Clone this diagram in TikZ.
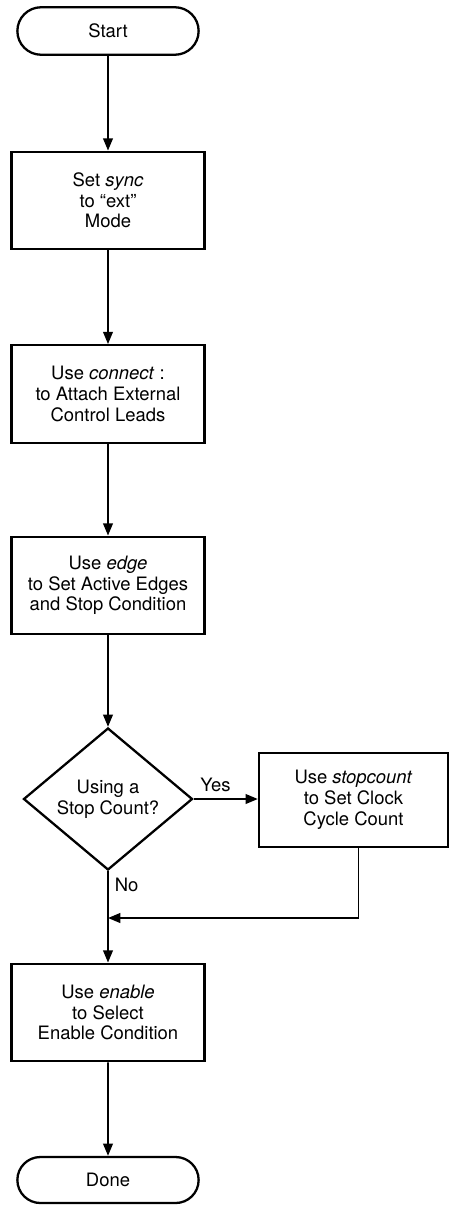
\documentclass[tikz,border=0pt]{standalone}
\usepackage{fontspec}
\setmainfont{TeX Gyre Heros}
\usetikzlibrary{arrows.meta,shapes.geometric,shapes.misc}

\begin{document}
\begin{tikzpicture}[font=\fontsize{10.5}{11.8}\selectfont,
                    stepbox/.style={rectangle,draw,line width=1.3pt,align=center,
                                    minimum width=3.86cm,minimum height=1.95cm},
                    termbox/.style={rounded rectangle,draw,line width=1.3pt,
                                    minimum width=3.86cm,minimum height=0.95cm},
                    askbox/.style={diamond,draw,line width=1.3pt,align=center,inner sep=0pt,
                                   aspect=1.19,minimum width=3.38cm,minimum height=2.84cm}]
\useasboundingbox (0,0) rectangle (9,-24.1);

\node[termbox] (start)  at (2.16,-0.62)  {Start};
\node[stepbox] (sync)   at (2.16,-4.01)  {Set \textit{sync}\\to “ext”\\Mode};
\node[stepbox] (conn)   at (2.16,-7.88)  {Use \textit{connect} :\\to Attach External\\Control Leads};
\node[stepbox] (edge)   at (2.16,-11.71) {Use \textit{edge}\\to Set Active Edges\\and Stop Condition};
\node[askbox]  (ask)    at (2.16,-15.98) {Using a\\Stop Count?};
\node[stepbox,minimum width=3.78cm,minimum height=1.88cm]
               (stop)   at (7.07,-16.0)  {Use \textit{stopcount}\\to Set Clock\\Cycle Count};
\node[stepbox] (enable) at (2.16,-20.25) {Use \textit{enable}\\to Select\\Enable Condition};
\node[termbox,minimum height=0.92cm]
               (done)   at (2.16,-23.6)  {Done};
\coordinate (merge) at (2.16,-18.36);

\begin{scope}[>={Triangle[length=7pt,width=5.5pt]},
              every edge/.style={draw,line width=1.1pt,->}]
    \path (start) edge (sync);
    \path (sync) edge (conn);
    \path (conn) edge (edge);
    \path (edge) edge (ask);
    \path (ask.east) edge node[pos=0,above right] {Yes} (stop.west |- ask.east);
    \path (ask.south) edge node[pos=0,below right] {No} (enable);
    \path (enable) edge (done);
    \draw[line width=1.1pt,->] ([xshift=0.1cm]stop.south) |- (merge);
\end{scope}
\end{tikzpicture}
\end{document}
